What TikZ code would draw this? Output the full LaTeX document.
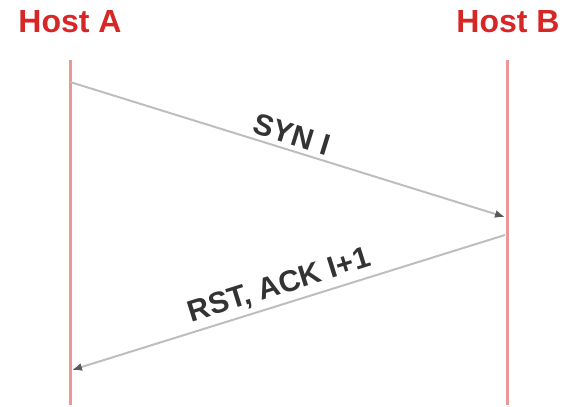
\documentclass[tikz,border=0pt]{standalone}
\usepackage{fontspec}
\setmainfont{Liberation Sans}
\usetikzlibrary{arrows.meta}
\definecolor{hostred}{RGB}{214,38,38}
\definecolor{lifered}{RGB}{236,150,150}
\definecolor{msggray}{RGB}{190,190,190}
\tikzset{host/.style = {text=hostred,font=\bfseries\fontsize{32}{32}\selectfont}}
\tikzset{life/.style = {draw=lifered,line width=3pt}}
\tikzset{msg/.style = {draw=msggray,line width=2pt,-{Latex[length=10pt,width=8pt,color=gray!70!black]}}}
\tikzset{lbl/.style = {font=\bfseries\fontsize{30}{30}\selectfont,text=black!80,sloped,above}}

\begin{document}
\begin{tikzpicture}[x=1pt,y=1pt]
          \useasboundingbox (0,0) rectangle (566,407);
          \node[host] (hostA) at (70,385) {Host A};
          \node[host] (hostB) at (508,385) {Host B};

          \coordinate (a1) at (70,347);
          \coordinate (a2) at (70,2);
          \coordinate (b1) at (507,347);
          \coordinate (b2) at (507,2);
          \draw[life] (a1) -- (a2);
          \draw[life] (b1) -- (b2);

          \coordinate (s1) at (70,325);
          \coordinate (s2) at (505,190);
          \coordinate (r1) at (505,172);
          \coordinate (r2) at (72,37);
          \draw[msg] (s1) -- node[lbl,yshift=1pt] {SYN I} (s2);
          \draw[msg] (r1) -- node[lbl,yshift=1pt,xshift=-4pt] {RST, ACK I+1} (r2);
        \end{tikzpicture}
\end{document}
